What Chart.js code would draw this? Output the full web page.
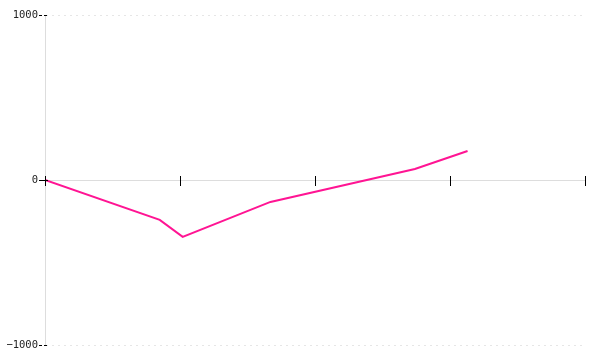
<!DOCTYPE html>
<html>
<head>
<meta charset="utf-8">
<script src="https://cdn.jsdelivr.net/npm/chart.js@4/dist/chart.umd.min.js"></script>
<style>
  html, body { margin: 0; padding: 0; background: #fff; }
  #wrap { width: 600px; height: 360px; }
</style>
</head>
<body>
<div id="wrap"><canvas id="chart"></canvas></div>
<script>
// data
const xValues = [0, 0.85, 1.02, 1.67, 2.74, 3.13];
const yValues = [0, -242, -345, -133, 67, 176];
const yTicks = [-1000, 0, 1000];
const xTicks = [0, 1, 2, 3, 4];

// short black tick marks that cross the axes
const crossTicks = {
    id: 'crossTicks',
    afterDraw(chart) {
        const ctx = chart.ctx;
        const x = chart.scales.x, y = chart.scales.y;
        const axisX = x.getPixelForValue(0);
        const axisY = y.getPixelForValue(0);
        ctx.save();
        ctx.strokeStyle = '#000';
        ctx.lineWidth = 1;
        yTicks.forEach(v => {
            const py = Math.round(y.getPixelForValue(v)) + 0.5;
            ctx.setLineDash(v === 0 ? [] : [3, 2]);
            ctx.beginPath();
            ctx.moveTo(axisX - 6, py);
            ctx.lineTo(axisX + 3, py);
            ctx.stroke();
        });
        ctx.setLineDash([]);
        xTicks.forEach(v => {
            const px = Math.round(x.getPixelForValue(v)) + 0.5;
            ctx.beginPath();
            ctx.moveTo(px, axisY - 4);
            ctx.lineTo(px, axisY + 6);
            ctx.stroke();
        });
        ctx.restore();
    }
};

new Chart(document.getElementById('chart'), {
    type: 'scatter',
    data: {
        datasets: [{
            data: xValues.map((v, i) => ({ x: v, y: yValues[i] })),
            showLine: true,
            borderColor: '#ff1493',
            borderWidth: 2,
            pointRadius: 0,
            tension: 0
        }]
    },
    options: {
        responsive: true,
        maintainAspectRatio: false,
        animation: false,
        layout: { padding: { top: 15, bottom: 15, right: 15, left: 0 } },
        plugins: { legend: { display: false }, tooltip: { enabled: false } },
        scales: {
            x: {
                type: 'linear',
                position: { y: 0 },
                min: 0,
                max: 4,
                ticks: { display: false, stepSize: 1 },
                grid: { display: false, drawTicks: false },
                border: { display: true, color: '#dddddd', width: 1 },
                afterFit: s => { s.height = 0; }
            },
            y: {
                min: -1000,
                max: 1000,
                afterBuildTicks: s => { s.ticks = yTicks.map(v => ({ value: v })); },
                ticks: {
                    color: '#222',
                    padding: 7,
                    font: { family: 'DejaVu Sans Mono', size: 10.5 },
                    callback: v => (v < 0 ? '\u2212' : '') + Math.abs(v)
                },
                grid: {
                    drawTicks: false,
                    color: ctx => ctx.tick && ctx.tick.value === 0 ? 'rgba(0,0,0,0)' : '#e6e6e6'
                },
                border: { display: true, color: '#dddddd', width: 1, dash: [2, 4] },
                afterFit: s => { s.width = 45; }
            }
        }
    },
    plugins: [crossTicks]
});
</script>
</body>
</html>
